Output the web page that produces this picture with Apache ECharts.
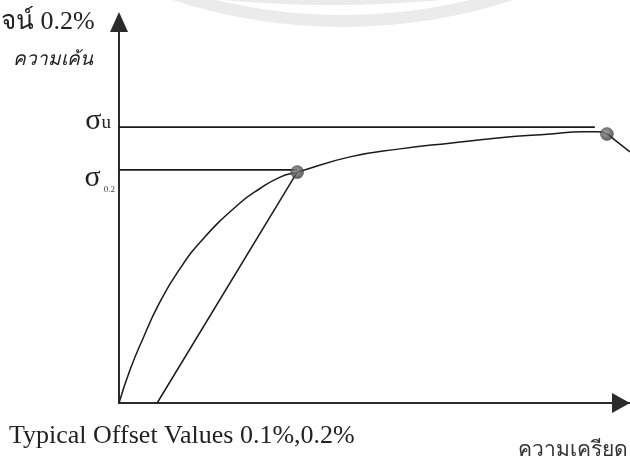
<!DOCTYPE html>
<html>
<head>
<meta charset="utf-8">
<script src="https://cdn.jsdelivr.net/npm/echarts@6/dist/echarts.min.js"></script>
<style>
  html, body { margin: 0; padding: 0; background: #fff; }
  #chart { width: 630px; height: 459px; }
</style>
</head>
<body>
<div id="chart"></div>
<script>
// stress-strain curve (strain %, stress %)
var curveStrain = [0, 2.2, 4.8, 7.8, 11.8, 16.7, 24.1, 28.1, 32.1, 35.5, 46.0, 56.0, 65.9, 75.9, 85.9, 92.4, 95.2, 97.2, 98.8, 101.8]
var curveStress = [0, 8.7, 17.0, 25.6, 34.6, 43.0, 52.5, 56.3, 59.3, 60.6, 64.6, 66.7, 68.2, 69.6, 70.6, 71.2, 71.2, 70.6, 69.0, 65.9]
// 0.2% offset line
var offsetStrain = [7.6, 35.5]
var offsetStress = [0, 60.6]
// marked points: 0.2% proof stress, ultimate stress
var pointStrain = [35.5, 97.2]
var pointStress = [60.6, 70.6]
// reference stress levels and their tick labels
var sigmaLevels = [61.2, 72.4]
var sigmaEnds = [35.5, 94.8]
var sigmaLabels = ['{s2|σ}{sub|0.2}', '{s1|σ}{u|u}']

function zip (xs, ys) {
  return xs.map(function (x, i) { return [x, ys[i]] })
}

var chart = echarts.init(document.getElementById('chart'))

var lineColor = '#1a1a1a'
var serif = 'Liberation Serif'
var ballColor = {
  type: 'radial', x: 0.4, y: 0.4, r: 0.6,
  colorStops: [{ offset: 0, color: '#8a8a8a' }, { offset: 1, color: '#3a3a3a' }]
}

var option = {
  backgroundColor: '#fff',
  animation: false,
  grid: { left: 119, right: 0, top: 22, bottom: 56 },
  xAxis: {
    type: 'value',
    min: 0,
    max: 101.8,
    axisLine: {
      lineStyle: { color: '#2a2a2a', width: 2 },
      symbol: ['none', 'triangle'],
      symbolSize: [20, 18],
      symbolOffset: [0, -9]
    },
    axisTick: { show: false },
    axisLabel: { show: false },
    splitLine: { show: false }
  },
  yAxis: {
    type: 'value',
    min: 0,
    max: 100,
    axisLine: {
      lineStyle: { color: '#2a2a2a', width: 2 },
      symbol: ['none', 'triangle'],
      symbolSize: [18, 20]
    },
    axisTick: { show: false },
    splitLine: { show: false },
    axisLabel: {
      customValues: sigmaLevels,
      margin: 4,
      formatter: function (v) {
        return sigmaLabels[sigmaLevels.indexOf(v)]
      },
      rich: {
        s1: { fontFamily: serif, fontSize: 30, color: '#222', padding: [0, 0, 13, 0] },
        u: { fontFamily: serif, fontSize: 19, color: '#222', padding: [0, 4, 9, 0] },
        s2: { fontFamily: serif, fontSize: 30, color: '#222', padding: [16, 0, 0, 0] },
        sub: { fontFamily: serif, fontSize: 9, color: '#444', padding: [40, 0, 0, 3] }
      }
    }
  },
  graphic: [
    {
      type: 'arc', silent: true, z: 0,
      shape: { cx: 343, cy: -525, r: 546, startAngle: 1.22, endAngle: 1.92 },
      style: { stroke: '#ebebeb', lineWidth: 12, fill: null }
    },
    {
      type: 'arc', silent: true, z: 0,
      shape: { cx: 332, cy: -1207, r: 1205, startAngle: 1.45, endAngle: 1.69 },
      style: { stroke: '#ebebeb', lineWidth: 14, fill: null }
    },
    {
      type: 'text', left: 1, top: 9,
      style: { text: 'จน์ 0.2%', fontFamily: serif, fontSize: 26, fill: '#222' }
    },
    {
      type: 'text', left: 13, top: 50,
      style: { text: 'ความเค้น', fontFamily: serif, fontStyle: 'italic', fontSize: 19, fill: '#222' }
    },
    {
      type: 'text', left: 9, top: 423,
      style: { text: 'Typical Offset Values 0.1%,0.2%', fontFamily: serif, fontSize: 26, fill: '#222' }
    },
    {
      type: 'text', left: 518, top: 440,
      style: { text: 'ความเครียด', fontFamily: serif, fontSize: 21, fill: '#333' }
    }
  ],
  series: [
    {
      type: 'line',
      data: zip([0, sigmaEnds[1]], [sigmaLevels[1], sigmaLevels[1]]),
      showSymbol: false,
      lineStyle: { color: lineColor, width: 1.6 }
    },
    {
      type: 'line',
      data: zip([0, sigmaEnds[0]], [sigmaLevels[0], sigmaLevels[0]]),
      showSymbol: false,
      lineStyle: { color: lineColor, width: 1.6 }
    },
    {
      type: 'line',
      data: zip(offsetStrain, offsetStress),
      showSymbol: false,
      lineStyle: { color: lineColor, width: 1.5 }
    },
    {
      type: 'line',
      data: zip(curveStrain, curveStress),
      smooth: 0.5,
      clip: false,
      showSymbol: false,
      lineStyle: { color: lineColor, width: 1.5 }
    },
    {
      type: 'scatter',
      data: zip(pointStrain, pointStress),
      symbolSize: 13,
      z: 5,
      itemStyle: { color: ballColor, borderColor: '#333', borderWidth: 0.5 }
    }
  ]
}

chart.setOption(option)
</script>
</body>
</html>
